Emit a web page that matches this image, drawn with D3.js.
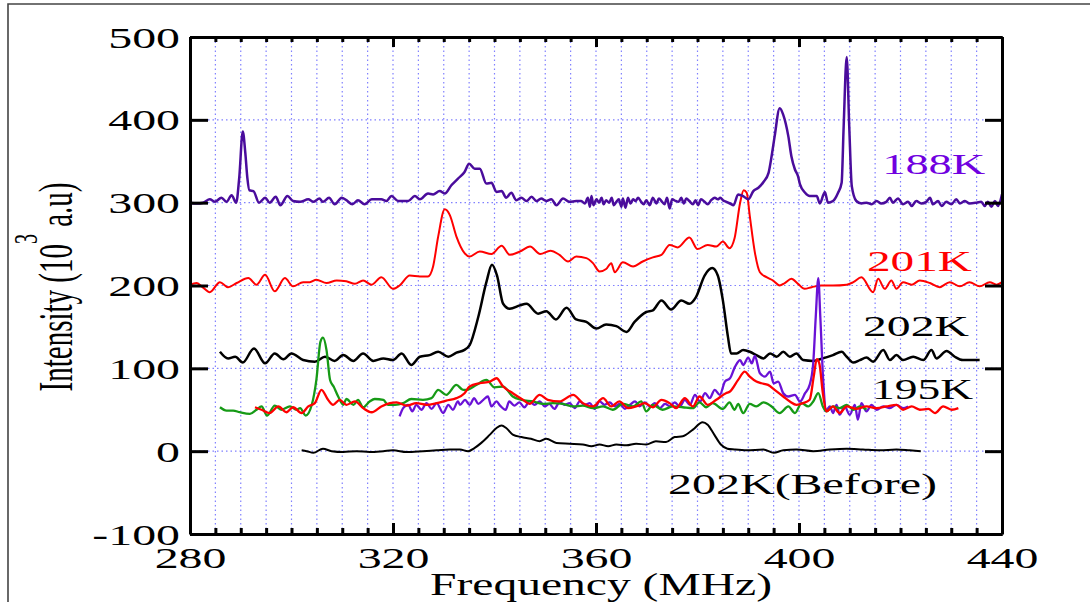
<!DOCTYPE html>
<html>
<head>
<meta charset="utf-8">
<script src="https://cdn.jsdelivr.net/npm/d3@7"></script>
<style>
  body { margin: 0; background: #fff; }
  svg { display: block; }
  text { font-family: "Liberation Serif", "Times New Roman", serif; }
</style>
</head>
<body>
<div id="chart"></div>
<script>
// NMR spectra, intensity vs frequency, shifted vertically per temperature
var xTicks = [280, 320, 360, 400, 440];
var yTicks = [-100, 0, 100, 200, 300, 400, 500];

// 188K (top purple)
var s188K = [[280,300],[281.3,299],[282.6,300],[283.9,304],[284.9,301],[286.2,306],[287.2,301],[288.2,309],[289.1,300],[289.7,330],[290.4,386],[290.9,360],[291.3,330],[291.7,315],[292.5,314],[293.6,300],[294.8,306],[295.7,300],[296.9,307],[297.8,297],[299.2,308],[300.3,302],[301.7,301],[303.3,304],[304.3,301],[305.5,305],[306.2,301],[307.4,306],[308.5,298],[309.9,306],[310.8,303],[312,298],[313.1,303],[314.4,298],[315.8,304],[317.7,304],[318.7,302],[319.7,308],[321,302],[323,302],[324.3,308],[325.3,304],[326.9,311],[327.9,310],[329.2,314],[330.2,311],[331.5,321],[332.8,329],[334.1,337],[335,347],[336.1,341],[337.1,341],[338.4,323],[339.4,324],[340.4,313],[341.4,314],[342.3,306],[343.3,312],[344.3,303],[345.3,306],[346.3,302],[347.3,307],[348.3,302],[349.2,305],[350.2,302],[351.2,304],[352.2,297],[353.5,305],[354.8,301],[356.1,302],
  [357.1,302],[357.8,299],[358.4,306],[358.8,295],[359.1,308],[359.5,297],[360.1,304],[360.6,300],[361.1,306],[361.5,298],[362,303],[362.6,300],[363.1,306],[363.5,297],[364,301],[364.5,304],[365,295],[365.3,305],[365.8,294],[366.3,306],[366.8,299],[367.3,304],[367.8,302],[368.3,306],[368.9,301],[369.4,298],[369.9,303],[370.6,297],[371.2,306],[371.9,299],[372.4,305],[372.9,302],[373.5,298],[374,306],[374.5,293],[375,304],[375.7,302],[376.3,301],[376.8,306],[377.3,299],[377.8,305],[378.4,302],[379.1,298],[379.6,303],[380.1,297],[380.7,304],[381.4,301],[382,298],[382.7,303],[383.4,306],[384,304],[384.5,306],[385,303],[385.7,301],[386.4,299],[387.1,297],
  [388,310],[389,308],[390,304],[391,314],[392,318],[393,325],[394,336],[394.6,356],[395.2,380],[396.2,414],[396.9,406],[397.9,380],[398.5,356],[399.2,340],[399.8,332],[400.2,322],[401.2,312],[402.1,308],[403.5,308],[404.1,299],[405.1,313],[405.7,300],[406.7,302],[407.7,312],[408.4,324],[408.8,392],[409.4,476],[409.9,392],[410.4,320],[411.3,302],
  [412.3,299],[413.3,300],[414.3,298],[415.3,302],[416.2,299],[417.2,301],[417.9,306],[418.5,300],[419.5,305],[420.5,298],[421.5,301],[422.2,296],[423.1,302],[424.1,299],[425.1,301],[425.8,306],[426.4,298],[427.4,302],[428.1,296],[429,301],[430,298],[431,304],[431.7,299],[432.7,302],[433.6,299],[435,300],[435.9,301],[436.6,296],[437.2,301],[437.9,295],[438.6,302],[439.2,296],[440,310]];

// 201K (upper red)
var s201K = [[280,201],[281.3,203],[282.3,199],[283.9,192],[285.9,204],[287.5,198],[289.2,203],[291.5,209],[293.1,201],[294.8,213],[296.7,193],[298.7,209],[300.3,199],[302.3,204],[303.6,204],[304.9,207],[306.9,203],[308.9,206],[310.8,205],[312.5,202],[314.1,206],[315.8,201],[317.7,210],[320,196],[321.3,200],[323.3,212],[325.3,211],[326.9,211],[327.9,223],[328.9,259],[330.2,292],[331.2,285],[332.5,259],[334.1,239],[335.1,235],[337.1,241],[339.4,238],[341.4,248],[343,237],[345,241],[347,247],[349,238],[351,242],[352.8,237],[354.5,229],[356.1,235],[358.1,233],[359.4,227],[360.7,217],[362,220],[363,227],[363.7,216],[365.3,228],[367.3,223],[369.2,229],[371.2,234],[372.9,237],[374.5,249],[376.1,246],[378.4,258],[380,244],[382,249],[383.7,247],[385,253],[386.3,245],[387.3,257],[388.4,300],[389.1,315],[389.7,312],[390.3,284],[391.3,240],[392.3,216],[393.6,210],[394.9,206],[396.2,200],[397.2,203],[398.5,208],[399.8,202],[401.1,196],[402.5,198],[404.4,200],[406.7,200],[409.4,201],[410.7,204],[412.3,210],[414.6,192],[415.6,208],[416.9,196],[418.2,206],[419.2,196],[420.5,204],[422.2,201],[423.8,206],[425.8,203],[427.7,198],[429.7,204],[431.7,199],[433.6,204],[435.6,199],[437.6,204],[438.9,201],[440,204]];

// 202K (upper black)
var s202K = [[285.9,120],[287.5,112],[288.9,114],[290.4,107],[292.6,124],[294.8,106],[296.7,118],[298.4,111],[300,118],[302.3,110],[304.6,108],[306.6,114],[308.5,109],[310.2,116],[312.2,109],[314.1,118],[316.1,109],[318.1,112],[320,110],[321.7,118],[323.6,104],[325.3,114],[327.2,116],[328.9,120],[330.9,114],[332.5,119],[334,122],[335.1,128],[336.8,162],[338.4,204],[339.5,225],[340.5,212],[341.7,178],[343,172],[345,176],[346.3,178],[348.6,166],[350.2,169],[352.1,159],[354.2,173],[356.1,159],[358.1,156],[360.1,148],[362,153],[364,151],[366,144],[367.6,156],[369.9,168],[371.2,170],[372.9,182],[374.8,171],[376.8,182],[378.4,178],[379.7,186],[381.4,212],[382.9,221],[384,212],[385,182],[386,138],[386.6,118],[387.7,118],[389,122],[390.3,120],[391.6,116],[393,112],[394.3,118],[395.6,114],[396.9,120],[398.2,114],[399.5,118],[400.8,110],[402.8,109],[404.7,112],[406.7,116],[408.4,120],[409.4,114],[410.7,107],[412,110],[413.3,113],[414.6,108],[416.6,122],[417.9,110],[419.2,116],[420.5,110],[422.5,114],[424.5,110],[426.1,122],[427.1,112],[429.1,121],[430.7,114],[432.3,110],[435.6,110]];

// 195K (green)
var s195K = [[285.9,53],[287.2,49],[288.5,49],[289.8,47],[291.8,45],[293.1,50],[294.1,54],[295.2,43],[296.7,55],[298,50],[299.7,54],[301,50],[301.7,52],[302.8,43],[304,56],[304.9,86],[305.7,132],[306.2,137],[306.9,122],[307.6,86],[308.3,78],[309.2,66],[310.2,56],[310.8,63],[312.2,56],[313.1,62],[314.1,53],[315.4,60],[316.4,63],[318.1,62],[319,56],[320.4,56],[322,58],[323.6,63],[325.9,62],[327.6,64],[328.9,74],[330.5,68],[332.5,80],[333.8,74],[334.5,74],[336.4,80],[338.4,86],[340,77],[341.7,78],[343.6,66],[345.3,62],[347.6,60],[349.6,57],[351.5,58],[353.5,57],[355.5,54],[357.4,55],[359.4,52],[361.4,54],[363.3,50],[365.3,57],[367.3,54],[368.9,60],[369.9,48],[371.2,56],[373.1,50],[375.1,54],[377.1,53],[379.1,52],[380.4,59],[381.7,53],[383,58],[385,51],[386.3,59],[387.3,50],[388,57],[389,46],[390.3,57],[391.6,54],[393,59],[394.6,54],[396.2,46],[397.9,54],[399.2,46],[400.5,58],[401.8,54],[402.8,60],[403.8,70],[404.7,54],[405.4,48],[406.7,54],[408,52],[409.4,56],[410.7,50],[412,54],[413.3,50]];

// lower red
var sRedLow = [[292.8,53],[294.1,50],[295.7,46],[297.4,54],[299,47],[300.3,53],[302,46],[303.3,54],[304.6,58],[305.9,74],[307.2,62],[308.2,56],[309.5,62],[310.8,56],[312.5,60],[314.1,52],[315.8,47],[317.7,54],[319.4,58],[320.7,59],[322.7,55],[324.6,58],[326.6,56],[328.6,58],[330.5,61],[332.5,64],[334.1,70],[335.1,78],[337.1,82],[339.1,84],[340.4,88],[341.7,78],[343.6,70],[345.6,62],[346.9,57],[348.9,68],[350.5,62],[352.8,60],[355.5,68],[357.4,58],[359.4,54],[361.4,64],[363,54],[364.6,60],[366.3,52],[367.9,54],[369.6,58],[371.2,53],[372.9,62],[374.5,58],[375.8,52],[377.5,64],[379.1,54],[380.4,66],[382,56],[383.7,62],[385.6,70],[386.4,72],[388,86],[389.3,96],[390.3,90],[391.6,84],[392.6,82],[393.9,80],[395.2,74],[396.9,66],[398.2,60],[399.5,56],[400.8,58],[402.1,62],[402.9,90],[403.5,111],[404,106],[404.7,70],[405.4,48],[406.7,54],[408,46],[409.4,54],[411.3,51],[413.3,54],[415.3,52],[417.2,54],[419.2,56],[420.5,50],[422.2,54],[423.8,50],[425.5,51],[426.8,46],[428.4,54],[430.1,50],[431.4,52]];

// lower purple
var sPurpleLow = [[321.3,42],[322,52],[323,56],[323.8,48],[324.6,56],[325.6,50],[326.6,58],[327.6,51],[328.6,58],[329.9,46],[330.9,56],[331.8,50],[332.8,60],[333.2,56],[334.2,62],[335.1,56],[336,64],[336.8,57],[337.8,62],[338.7,66],[339.4,54],[340.4,60],[341.1,55],[342.2,50],[342.9,60],[343.9,55],[344.9,59],[345.9,53],[346.9,60],[347.9,56],[348.9,60],[349.9,54],[350.8,57],[351.8,51],[352.8,59],[353.8,56],[354.8,58],[355.8,52],[356.8,60],[357.8,56],[358.8,58],[359.7,51],[360.7,60],[361.7,56],[362.7,59],[363.7,54],[364.7,57],[365.7,51],[366.7,56],[367.7,60],[368.6,54],[369.6,59],[370.6,54],[371.6,58],[372.6,52],[373.6,57],[374.6,54],[375.5,59],[376.5,54],[377.5,62],[378.5,56],[379.5,68],[380.5,60],[381.5,70],[382.4,64],[383.4,74],[384.4,68],[385.4,84],[386.4,88],[387.4,102],[388.4,110],[389,104],[390,113],[390.7,106],[391.3,115],[392.3,94],[393.3,90],[394.3,96],[395,82],[395.9,84],[396.9,70],[397.9,66],[399.2,68],[400.2,60],[401.2,70],[402.1,80],[402.8,106],[403.3,162],[403.8,209],[404.2,162],[404.8,82],[405.4,50],[406.1,54],[406.7,46],[407.4,56],[408,44],[409,54],[410,44],[411,56],[411.6,38],[412.3,58],[413.3,48],[414.3,56],[415.3,50],[416.6,54],[417.9,52],[419.2,56],[420.5,52],[421.5,54]];

// 202K before (bottom black)
var sBefore = [[302,1],[303,0],[304.3,-2],[306.2,3],[307.9,0],[310.2,-1],[312.8,0],[315.4,-1],[318.1,0],[320,1],[322.7,-1],[325.9,0],[328.6,1],[331.2,2],[333.2,2],[334.8,0],[336.1,4],[337.4,10],[339.1,20],[340.4,28],[341.4,31],[342.3,28],[343.6,20],[345.3,17],[347.2,15],[348.9,12],[350.2,15],[352.2,10],[354.8,9],[357.4,8],[359.1,6],[360.7,8],[362.4,6],[364,8],[366,7],[367.9,9],[369.9,8],[371.8,12],[373.8,11],[375.5,17],[377.1,18],[379.1,26],[381,35],[382,32],[383.3,20],[384.6,8],[385.9,3],[387.3,2],[389.7,1],[393,2],[395,-2],[396.9,1],[399.5,2],[402.8,0],[406.1,2],[409.4,3],[412.6,2],[415.9,1],[419.2,2],[421.8,1],[424,0]];

var series = [
  { name: "before", data: sBefore, color: "#000000", w: 2 },
  { name: "202K", data: s202K, color: "#000000", w: 2.5 },
  { name: "201K", data: s201K, color: "#ff0000", w: 2 },
  { name: "188K", data: s188K, color: "#4a0c9c", w: 2.5 },
  { name: "purpleLow", data: sPurpleLow, color: "#6a12d6", w: 2.3 },
  { name: "195K", data: s195K, color: "#169a16", w: 2.3 },
  { name: "redLow", data: sRedLow, color: "#ff0000", w: 2.3 }
];

// curve labels: left edge (MHz), baseline (10^3 a.u)
var labels = [
  { text: "188K", f: 416.4, v: 335, color: "#7000e0", len: 103 },
  { text: "201K", f: 413.4, v: 218, color: "#ff0000", len: 105 },
  { text: "202K", f: 412.6, v: 139, color: "#000000", len: 106 },
  { text: "195K", f: 414.4, v: 63, color: "#000000", len: 101 },
  { text: "202K(Before)", f: 374.2, v: -52, color: "#000000", len: 269 }
];

(function() {
  var width = 1090,
    height = 602;
  var mLeft = 190, mRight = 1002, mTop = 37, mBottom = 534;
  var stretch = 1.65;

  var svg = d3.select("#chart").append("svg")
    .attr("width", width)
    .attr("height", height);

  var x = d3.scaleLinear().domain([280, 440]).range([mLeft, mRight]);
  var y = d3.scaleLinear().domain([-100, 500]).range([mBottom, mTop]);

  // outer frame (only top and left edges show)
  svg.append("path")
    .attr("d", "M8," + height + "V4H" + width)
    .attr("fill", "none")
    .attr("stroke", "#444")
    .attr("stroke-width", 1.6);

  // dotted grid
  var minor = d3.range(285, 440, 5);
  var grid = svg.append("g")
    .attr("stroke", "#8080ff")
    .attr("stroke-width", 1.2)
    .attr("stroke-dasharray", "1.5,3");
  grid.selectAll(".vg").data(minor).enter().append("line")
    .attr("x1", function(d) { return x(d); }).attr("x2", function(d) { return x(d); })
    .attr("y1", mTop).attr("y2", mBottom);
  grid.selectAll(".hg").data([0, 100, 200, 300, 400]).enter().append("line")
    .attr("y1", function(d) { return y(d); }).attr("y2", function(d) { return y(d); })
    .attr("x1", mLeft).attr("x2", mRight);

  // spectra
  var line = d3.line()
    .x(function(d) { return x(d[0]); })
    .y(function(d) { return y(d[1]); })
    .curve(d3.curveMonotoneX);

  svg.selectAll(".spec").data(series).enter().append("path")
    .attr("class", "spec")
    .attr("d", function(d) { return line(d.data); })
    .attr("fill", "none")
    .attr("stroke", function(d) { return d.color; })
    .attr("stroke-width", function(d) { return d.w; })
    .attr("stroke-linejoin", "round");

  // axes: thick frame, inward ticks
  function styleAxis(g) {
    g.selectAll(".domain").attr("stroke", "#000").attr("stroke-width", 3);
    g.selectAll(".tick line").attr("stroke", "#000").attr("stroke-width", 3);
  }

  var plain = function(d) { return String(d); };  // hyphen minus like the original

  var gBottomMinor = svg.append("g").attr("transform", "translate(0," + mBottom + ")")
    .call(d3.axisBottom(x).tickValues(minor).tickSizeInner(-6).tickSizeOuter(0).tickFormat(""));
  var gTopMinor = svg.append("g").attr("transform", "translate(0," + mTop + ")")
    .call(d3.axisTop(x).tickValues(minor).tickSizeInner(-5).tickSizeOuter(0).tickFormat(""));
  var gBottom = svg.append("g").attr("transform", "translate(0," + mBottom + ")")
    .call(d3.axisBottom(x).tickValues(xTicks).tickSizeInner(-11).tickSizeOuter(0).tickPadding(0).tickFormat(plain));
  var gTop = svg.append("g").attr("transform", "translate(0," + mTop + ")")
    .call(d3.axisTop(x).tickValues(xTicks).tickSizeInner(-10).tickSizeOuter(0).tickFormat(""));
  var gLeft = svg.append("g").attr("transform", "translate(" + mLeft + ",0)")
    .call(d3.axisLeft(y).tickValues(yTicks).tickSizeInner(-18).tickSizeOuter(0).tickPadding(0).tickFormat(plain));
  var gRight = svg.append("g").attr("transform", "translate(" + mRight + ",0)")
    .call(d3.axisRight(y).tickValues(yTicks).tickSizeInner(-17).tickSizeOuter(0).tickFormat(""));

  [gBottomMinor, gTopMinor, gBottom, gTop, gLeft, gRight].forEach(styleAxis);

  // wide serif tick labels like the original figure
  function widen(sel, k) {
    sel.each(function() {
      var w = this.getComputedTextLength();
      d3.select(this).attr("textLength", w * k).attr("lengthAdjust", "spacingAndGlyphs");
    });
  }

  gBottom.selectAll(".tick text")
    .attr("y", 34).attr("dy", null)
    .attr("font-family", "Liberation Serif, Times New Roman, serif")
    .attr("font-size", 29).attr("fill", "#000")
    .call(widen, stretch);

  gLeft.selectAll(".tick text")
    .attr("x", -10).attr("dy", null).attr("y", 10)
    .attr("font-family", "Liberation Serif, Times New Roman, serif")
    .attr("font-size", 29).attr("fill", "#000")
    .call(widen, stretch);

  // curve labels
  svg.selectAll(".lab").data(labels).enter().append("text")
    .attr("class", "lab")
    .attr("x", function(d) { return x(d.f); })
    .attr("y", function(d) { return y(d.v); })
    .attr("font-size", 29)
    .attr("fill", function(d) { return d.color; })
    .attr("textLength", function(d) { return d.len; })
    .attr("lengthAdjust", "spacingAndGlyphs")
    .text(function(d) { return d.text; });

  // axis titles
  svg.append("text")
    .attr("x", 601).attr("y", 595)
    .attr("text-anchor", "middle")
    .attr("font-size", 31)
    .attr("textLength", 342)
    .attr("lengthAdjust", "spacingAndGlyphs")
    .text("Frequency (MHz)");

  var yt = svg.append("text")
    .attr("transform", "translate(72,287) rotate(-90) scale(1," + stretch + ")")
    .attr("text-anchor", "middle")
    .attr("font-size", 29);
  yt.append("tspan").text("Intensity (10");
  yt.append("tspan").attr("dy", -21).attr("font-size", 20).text("3");
  yt.append("tspan").attr("dy", 21).text(" a.u)");
})();
</script>
</body>
</html>
